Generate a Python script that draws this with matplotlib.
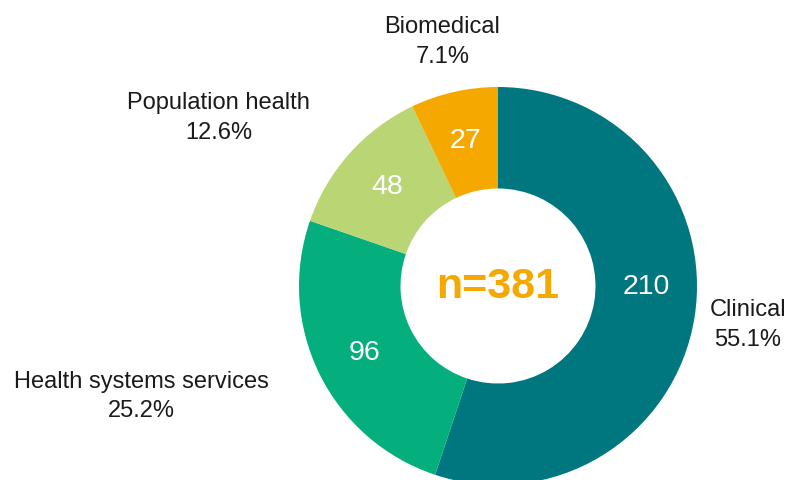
import matplotlib
matplotlib.use('Agg')
import matplotlib.pyplot as plt

# data
categories = ['Clinical', 'Health systems services', 'Population health', 'Biomedical']
counts = [210, 96, 48, 27]
colors = ['#00767F', '#05AF7D', '#B9D574', '#F5A800']

# layout of the outer labels, in units of the donut radius
label_pos = [(1.255, -0.19), (-1.79, -0.55), (-1.405, 0.85), (-0.28, 1.23)]

plt.rcParams['font.family'] = ['Liberation Sans', 'DejaVu Sans']

total = sum(counts)
fig = plt.figure(figsize=(7.93, 4.81), dpi=100)
ax = fig.add_axes([299 / 793, -5 / 481, 398 / 793, 398 / 481])

wedges, texts, autotexts = ax.pie(
    counts, colors=colors, startangle=90, counterclock=False,
    wedgeprops=dict(width=0.51, edgecolor='none'),
    autopct=lambda p: '%d' % round(p * total / 100), pctdistance=0.75,
    textprops=dict(color='white', fontsize=20.5))

# the 210 label sits level with the centre in the original
autotexts[0].set_position((0.745, 0.0))

for name, n, (x, y) in zip(categories, counts, label_pos):
    ax.text(x, y, '%s\n%.1f%%' % (name, n / total * 100), ha='center', va='center',
            multialignment='center', fontsize=17, color='#1a1a1a', linespacing=1.45)

ax.text(0, 0, 'n=%d' % total, ha='center', va='center', fontsize=31,
        fontweight='bold', color='#F5A800')

ax.set_xlim(-1, 1)
ax.set_ylim(-1, 1)
ax.set_aspect('equal')
ax.axis('off')

fig.savefig('out.png', dpi=100)
